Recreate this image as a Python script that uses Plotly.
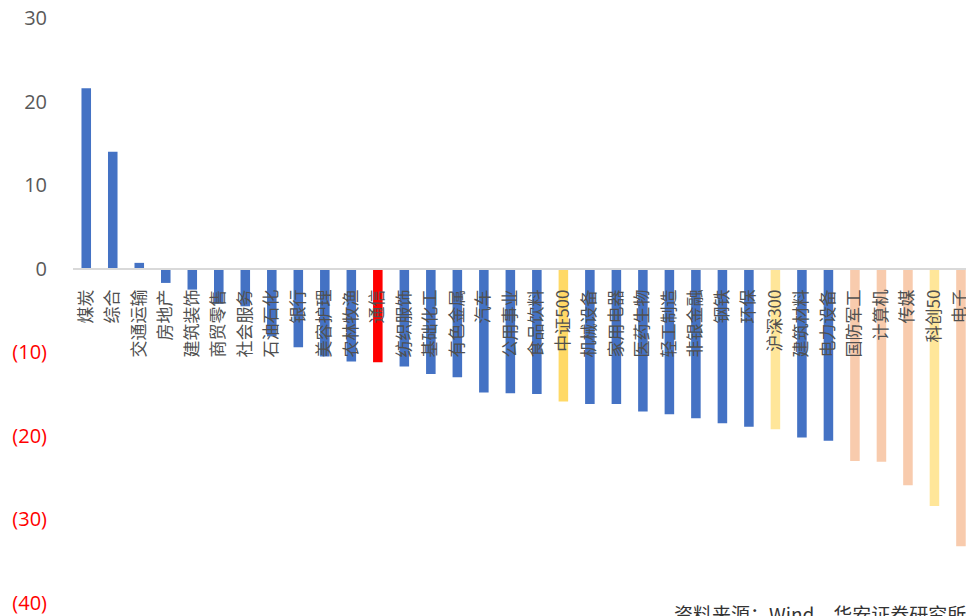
import plotly.graph_objects as go

categories = ["煤炭", "综合", "交通运输", "房地产", "建筑装饰", "商贸零售", "社会服务", "石油石化",
              "银行", "美容护理", "农林牧渔", "通信", "纺织服饰", "基础化工", "有色金属", "汽车",
              "公用事业", "食品饮料", "中证500", "机械设备", "家用电器", "医药生物", "轻工制造",
              "非银金融", "钢铁", "环保", "沪深300", "建筑材料", "电力设备", "国防军工", "计算机",
              "传媒", "科创50", "电子"]
values = [21.6, 14.0, 0.7, -1.7, -2.5, -4.2, -4.5, -8.1,
          -9.4, -10.5, -11.1, -11.2, -11.7, -12.6, -13.0, -14.8,
          -14.9, -15.0, -15.9, -16.2, -16.2, -17.1, -17.4,
          -17.9, -18.5, -18.9, -19.2, -20.2, -20.6, -23.0, -23.1,
          -25.9, -28.4, -33.2]
highlight = {"通信": "#FF0000", "中证500": "#FFD966", "沪深300": "#FFE699", "科创50": "#FFE699",
             "国防军工": "#F8CBAD", "计算机": "#F8CBAD", "传媒": "#F8CBAD", "电子": "#F8CBAD"}
colors = [highlight.get(c, "#4472C4") for c in categories]

y_tickvals = [30, 20, 10, 0, -10, -20, -30, -40]
y_ticktext = ["30", "20", "10", "0",
              '<span style="color:#FF0000">(10)</span>', '<span style="color:#FF0000">(20)</span>',
              '<span style="color:#FF0000">(30)</span>', '<span style="color:#FF0000">(40)</span>']
source_text = "资料来源：Wind、华安证券研究所"

fig = go.Figure(go.Bar(
    x=list(range(len(categories))), y=values, marker_color=colors,
    marker_line_width=0, width=0.36,
))

fig.update_layout(
    width=966, height=616,
    margin=dict(l=73, r=0, t=18, b=13, autoexpand=False),
    paper_bgcolor="white", plot_bgcolor="white",
    showlegend=False,
    font=dict(family="Noto Sans CJK SC, Noto Sans, sans-serif", color="#595959"),
)
fig.update_xaxes(
    range=[-0.5, 33.19], automargin=False,
    tickmode="array", tickvals=list(range(len(categories))), ticktext=categories,
    tickangle=-90, ticks="", ticklabelstandoff=13, ticklabeloverflow="allow",
    tickfont=dict(size=17, color="#505050", family="Noto Sans CJK SC"),
    anchor="free", position=40 / 70,
    showline=True, linecolor="#D9D9D9", linewidth=2,
    showgrid=False, zeroline=False,
)
fig.update_yaxes(
    range=[-40, 30], automargin=False,
    tickmode="array", tickvals=y_tickvals, ticktext=y_ticktext,
    ticks="", ticklabelstandoff=25,
    tickfont=dict(size=20, color="#595959", family="Open Sans, Noto Sans, sans-serif"),
    showgrid=False, zeroline=False, showline=False,
)
fig.add_annotation(
    xref="paper", yref="paper", x=(672 - 73) / 893, y=(603 - 598) / 585,
    xanchor="left", yanchor="top", showarrow=False,
    text=source_text, font=dict(size=19, color="#333333", family="Noto Sans CJK SC"),
)
fig.write_html("out.html")
